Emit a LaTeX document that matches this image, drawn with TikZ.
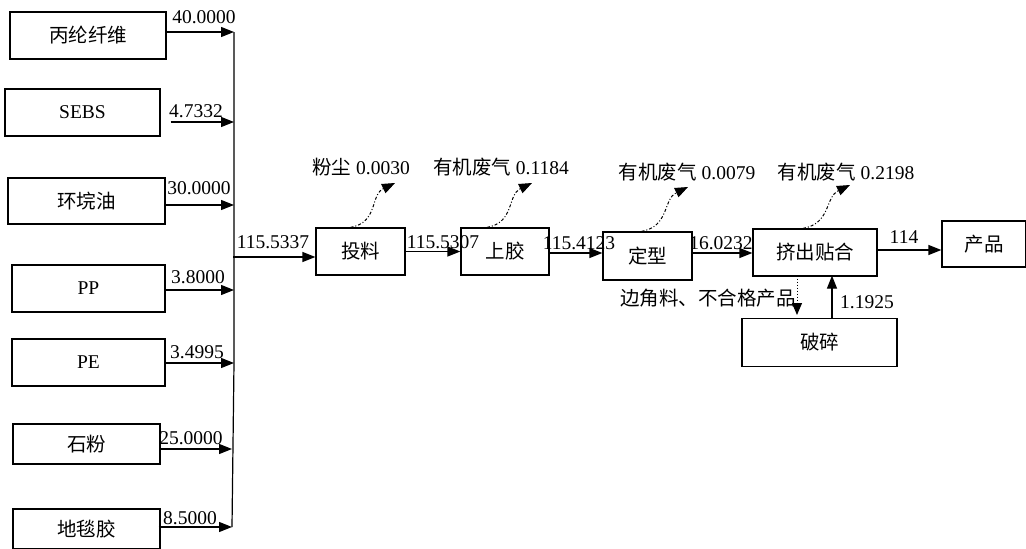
\documentclass[tikz,border=0pt]{standalone}
\usepackage{fontspec}
\setmainfont{Liberation Serif}
\newfontfamily\cjk{Noto Sans CJK SC}
\usetikzlibrary{arrows.meta}
\begin{document}
\begin{tikzpicture}[x=1pt,y=-1pt,
  font=\fontsize{19.5}{22}\selectfont,
  box/.style={draw,line width=1.2pt,rectangle,inner sep=0pt,font=\fontsize{19.5}{22}\selectfont\cjk},
  arr/.style={line width=1.2pt,-{Triangle[length=13pt,width=10pt]}},
  emis/.style={line width=1pt,dash pattern=on 3pt off 2pt on 1pt off 2pt,-{Triangle[length=13pt,width=10pt]}},
  lbl/.style={inner sep=0pt}]
\useasboundingbox (0,0) rectangle (1026,549);
% left material boxes
\node[box,minimum width=156pt,minimum height=47pt] (b1) at (88,35.5) {丙纶纤维};
\node[box,minimum width=155pt,minimum height=47pt,font=\fontsize{19.5}{22}\selectfont] (b2) at (82.5,112.5) {SEBS};
\node[box,minimum width=157pt,minimum height=46pt] (b3) at (86.5,201) {环垸油};
\node[box,minimum width=153pt,minimum height=47pt,font=\fontsize{19.5}{22}\selectfont] (b4) at (88.5,288.5) {PP};
\node[box,minimum width=153pt,minimum height=47pt,font=\fontsize{19.5}{22}\selectfont] (b5) at (88.5,362.5) {PE};
\node[box,minimum width=147pt,minimum height=40pt] (b6) at (86.5,444) {石粉};
\node[box,minimum width=147pt,minimum height=40pt] (b7) at (86.5,529) {地毯胶};
% trunk
\coordinate (t1) at (234,32);
\coordinate (t2) at (234,122);
\coordinate (t3) at (234,205);
\coordinate (t4) at (234,290);
\coordinate (t5) at (234,363);
\coordinate (t6) at (232,449);
\coordinate (t7) at (232,527);
\coordinate (tb) at (232,527);
\draw[line width=1.2pt] (t1) -- (t5) -- (tb);
\draw[arr] (b1.east |- t1) -- (t1);
\draw[arr] ([xshift=10pt]b2.east |- t2) -- (t2);
\draw[arr] (b3.east |- t3) -- (t3);
\draw[arr] (b4.east |- t4) -- (t4);
\draw[arr] (b5.east |- t5) -- (t5);
\draw[arr] (b6.east |- t6) -- (t6);
\draw[arr] ([xshift=-2pt]b7.east |- t7) -- (t7);
\node[lbl] (l1) at (204,17) {40.0000};
\node[lbl] (l2) at (196,111) {4.7332};
\node[lbl] (l3) at (199,188) {30.0000};
\node[lbl] (l4) at (198,277) {3.8000};
\node[lbl] (l5) at (197,352) {3.4995};
\node[lbl] (l6) at (191,438) {25.0000};
\node[lbl] (l7) at (190,518) {8.5000};
% main process boxes
\node[box,minimum width=89pt,minimum height=47pt] (tl) at (360.5,251.5) {投料};
\node[box,minimum width=88pt,minimum height=47pt] (sj) at (505,251.5) {上胶};
\node[box,minimum width=89pt,minimum height=48pt] (dx) at (647.5,256) {定型};
\node[box,minimum width=124pt,minimum height=47pt] (jc) at (815,252.5) {挤出贴合};
\node[box,minimum width=84pt,minimum height=46pt] (cp) at (984,244) {产品};
\node[box,minimum width=155pt,minimum height=48pt] (ps) at (819.5,342.5) {破碎};
% main arrows
\coordinate (j) at (233,257);
\draw[arr] (j) -- (j -| tl.west);
\draw[arr] (tl.east) -- (sj.west);
\draw[arr] (sj.east |- 0,253) -- (dx.west |- 0,253);
\draw[arr] (dx.east |- 0,253) -- (jc.west |- 0,253);
\draw[arr] (jc.east |- 0,250) -- (cp.west |- 0,250);
\node[lbl] (m1) at (273,242) {115.5337};
\node[lbl] (m2) at (443,242) {115.5307};
\node[lbl] (m3) at (579,243) {115.4123};
\node[lbl] (m4) at (721,243) {16.0232};
\node[lbl] (m5) at (904,237) {114};
% recycle
\coordinate (u) at (832,0);
\draw[arr] (ps.north -| u) -- ([yshift=1pt]jc.south -| u);
\node[lbl] (r1) at (867,302) {1.1925};
\coordinate (d) at (797,315);
\draw[line width=1pt,dotted,-{Triangle[length=12pt,width=10pt]}] ([yshift=1pt]jc.south -| d) -- (d);
\node[lbl,font=\fontsize{19.5}{22}\selectfont\cjk] (r2) at (708,298) {边角料、不合格产品};
% emissions
\coordinate (e1) at (395,183);
\coordinate (e2) at (532,183);
\coordinate (e3) at (688,187);
\coordinate (e4) at (850,185);
\draw[emis] ([xshift=-10pt]tl.north) .. controls +(28,-5) and +(-25,12) .. (e1);
\draw[emis] ([xshift=-18pt]sj.north) .. controls +(28,-5) and +(-25,12) .. (e2);
\draw[emis] ([xshift=-6pt]dx.north) .. controls +(28,-5) and +(-25,12) .. (e3);
\draw[emis] ([xshift=-12pt]jc.north) .. controls +(28,-5) and +(-25,12) .. (e4);
\node[lbl] (s1) at (361,167) {{\cjk 粉尘} 0.0030};
\node[lbl] (s2) at (501,167) {{\cjk 有机废气} 0.1184};
\node[lbl] (s3) at (687,172) {{\cjk 有机废气} 0.0079};
\node[lbl] (s4) at (846,172) {{\cjk 有机废气} 0.2198};
\end{tikzpicture}
\end{document}
